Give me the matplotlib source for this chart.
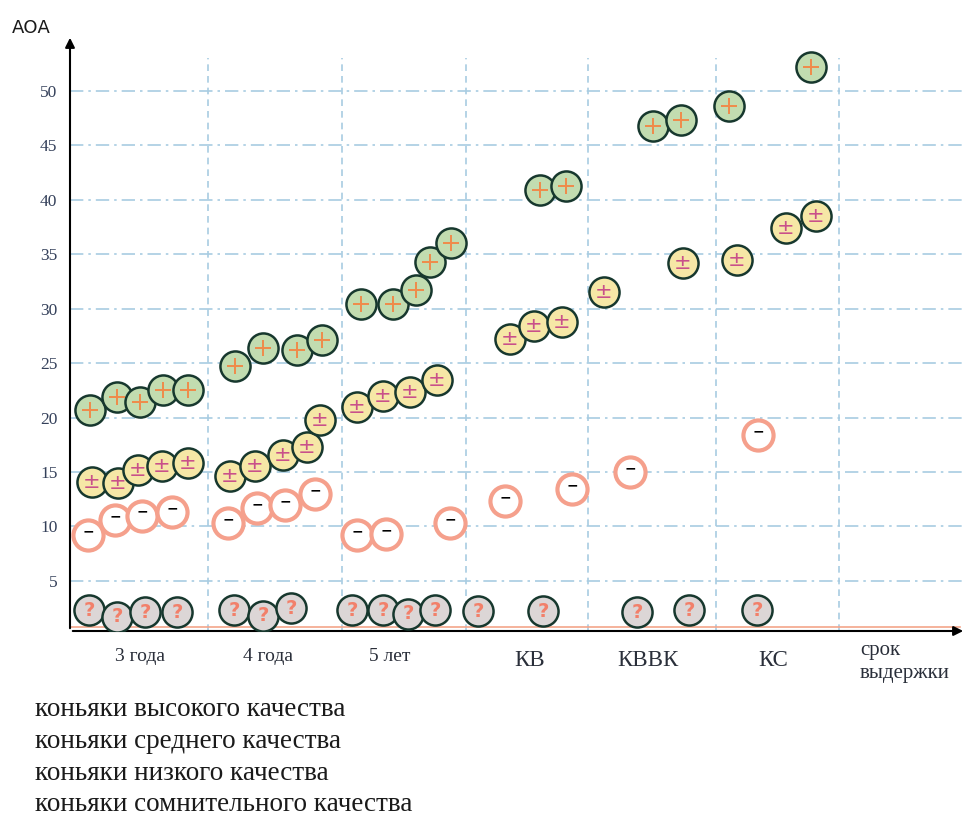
import matplotlib
matplotlib.use("Agg")
import matplotlib.pyplot as plt

# positions along the x axis (arbitrary schematic units, 0 = y axis)
GROUP_BOUNDS = [13.8, 27.2, 39.6, 51.8, 64.6, 76.9]
GROUP_NAMES = ["3 года", "4 года", "5 лет", "КВ", "КВВК", "КС"]
GROUP_LABEL_X = [7.0, 19.8, 32.0, 46.0, 57.8, 70.3]

# high quality cognacs
high_x = [2.0, 4.7, 7.0, 9.3, 11.8, 16.5, 19.3, 22.7, 25.2,
          29.1, 32.3, 34.6, 36.0, 38.1, 47.0, 49.6, 58.3, 61.1, 65.9, 74.1]
high_y = [20.7, 21.9, 21.4, 22.5, 22.5, 24.7, 26.4, 26.2, 27.1,
          30.4, 30.4, 31.7, 34.3, 36.0, 40.9, 41.3, 46.8, 47.3, 48.6, 52.2]

# medium quality cognacs
mid_x = [2.2, 4.8, 6.8, 9.2, 11.8, 16.0, 18.5, 21.3, 23.7, 25.0,
         28.7, 31.3, 34.0, 36.7, 44.0, 46.4, 49.2, 53.4, 61.3, 66.7, 71.6, 74.6]
mid_y = [14.1, 14.0, 15.2, 15.6, 15.8, 14.6, 15.6, 16.6, 17.3, 19.8,
         21.0, 22.0, 22.4, 23.5, 27.2, 28.4, 28.8, 31.5, 34.2, 34.5, 37.4, 38.5]

# low quality cognacs
low_x = [1.8, 4.5, 7.2, 10.2, 15.8, 18.7, 21.5, 24.5,
         28.7, 31.6, 38.0, 43.5, 50.2, 56.0, 68.8]
low_y = [9.2, 10.6, 11.0, 11.3, 10.3, 11.7, 12.0, 13.0,
         9.2, 9.3, 10.3, 12.3, 13.4, 15.0, 18.4]

# doubtful quality cognacs
dub_x = [1.9, 4.7, 7.5, 10.7, 16.4, 19.3, 22.1,
         28.2, 31.3, 33.8, 36.5, 40.8, 47.3, 56.7, 61.9, 68.7]
dub_y = [2.3, 1.7, 2.1, 2.1, 2.3, 1.8, 2.5,
         2.3, 2.3, 2.0, 2.3, 2.2, 2.2, 2.1, 2.3, 2.3]

Y_TICKS = [5, 10, 15, 20, 25, 30, 35, 40, 45, 50]

LEGEND_LINES = [
    "коньяки высокого качества",
    "коньяки среднего качества",
    "коньяки низкого качества",
    "коньяки сомнительного качества",
]

GRID_COLOR = "#a8cce2"
SERIF = ["Liberation Serif", "DejaVu Serif"]
TICK_COLOR = "#34405a"
LABEL_COLOR = "#2a2f3a"

fig = plt.figure(figsize=(9.68, 8.25), dpi=100)
ax = fig.add_axes([70 / 968, (825 - 631) / 825, (966 - 70) / 968, (631 - 35) / 825])
ax.set_xlim(0, 89.6)
ax.set_ylim(0.4, 55.15)
for s in ax.spines.values():
    s.set_visible(False)

# grid
for yv in Y_TICKS:
    ax.plot([0, 89.6], [yv, yv], color=GRID_COLOR, lw=1.2,
            linestyle=(0, (8, 3, 1.5, 3)), zorder=1)
for xv in GROUP_BOUNDS:
    ax.plot([xv, xv], [0.4, 53.0], color=GRID_COLOR, lw=1.2,
            linestyle=(0, (4, 3)), zorder=1)

# axes with arrows
ax.plot([0, 89.0], [0.75, 0.75], color="#f4a58a", lw=1.2, zorder=2, clip_on=False)
ax.annotate("", xy=(89.6, 0.4), xytext=(0, 0.4),
            arrowprops=dict(arrowstyle="-|>", color="black", lw=1.5,
                            mutation_scale=14), annotation_clip=False, zorder=3)
ax.annotate("", xy=(0, 55.15), xytext=(0, 0.4),
            arrowprops=dict(arrowstyle="-|>", color="black", lw=1.5,
                            mutation_scale=14), annotation_clip=False, zorder=3)

ax.set_xticks([])
ax.set_yticks(Y_TICKS)
ax.set_yticklabels([str(v) for v in Y_TICKS], family=SERIF, fontsize=12.5,
                   color=TICK_COLOR)
ax.tick_params(axis="y", length=0, pad=9)

S = 470
# high
ax.scatter(high_x, high_y, s=S, facecolor="#c2dcb0", edgecolor="#17382e",
           linewidth=1.8, zorder=4)
ax.scatter(high_x, high_y, s=120, marker="+", color="#f08a4a",
           linewidth=1.4, zorder=5)
# medium
ax.scatter(mid_x, mid_y, s=S, facecolor="#f6e7a6", edgecolor="#17382e",
           linewidth=1.8, zorder=4)
for x, y in zip(mid_x, mid_y):
    ax.text(x, y, "±", ha="center", va="center", fontsize=15,
            color="#c9508a", family="DejaVu Sans", zorder=5)
# low
ax.scatter(low_x, low_y, s=S, facecolor="white", edgecolor="#f5a08c",
           linewidth=3.0, zorder=4)
for x, y in zip(low_x, low_y):
    ax.text(x, y + 0.35, "−", ha="center", va="center", fontsize=10,
            color="black", fontweight="bold", family="DejaVu Sans", zorder=5)
# doubtful
ax.scatter(dub_x, dub_y, s=S, facecolor="#dcd6d6", edgecolor="#17382e",
           linewidth=1.8, zorder=4)
for x, y in zip(dub_x, dub_y):
    ax.text(x, y, "?", ha="center", va="center", fontsize=14,
            color="#f2806a", fontweight="bold", family="DejaVu Sans", zorder=5)

# category labels under the x axis
for name, xv in zip(GROUP_NAMES, GROUP_LABEL_X):
    if name[0].isdigit():
        ax.text(xv, -1.9, name, ha="center", va="center", fontsize=14,
                family=SERIF, color=LABEL_COLOR, clip_on=False)
    else:
        ax.text(xv, -2.3, name, ha="center", va="center", fontsize=16.5,
                family=SERIF, color=LABEL_COLOR, clip_on=False)
ax.text(79.0, -0.5, "срок\nвыдержки", ha="left", va="top", fontsize=15,
        family=SERIF, color=LABEL_COLOR, linespacing=1.3, clip_on=False)

# axis title
fig.text(12 / 968, 1 - 28 / 825, "АОА", ha="left", va="center", fontsize=13,
         family="DejaVu Sans", color="#1a1a1a")

# legend lines below the chart
for i, line in enumerate(LEGEND_LINES):
    fig.text(35 / 968, 1 - (710 + 31.5 * i) / 825, line, ha="left",
             va="center", fontsize=19.5, family=SERIF, color="#1a1a1a")

fig.savefig("out.png", dpi=100)
